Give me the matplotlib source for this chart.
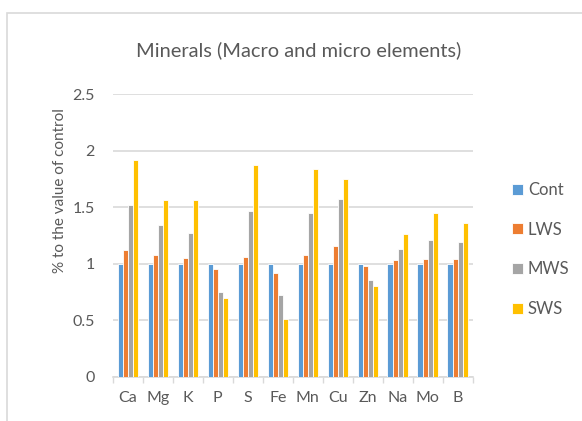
import numpy as np
import matplotlib.pyplot as plt
from matplotlib.patches import Rectangle

elements = ['Ca', 'Mg', 'K', 'P', 'S', 'Fe', 'Mn', 'Cu', 'Zn', 'Na', 'Mo', 'B']
cont = [1, 1, 1, 1, 1, 1, 1, 1, 1, 1, 1, 1]
lws = [1.12, 1.08, 1.05, 0.95, 1.06, 0.92, 1.08, 1.16, 0.98, 1.03, 1.04, 1.04]
mws = [1.52, 1.34, 1.27, 0.75, 1.47, 0.72, 1.45, 1.57, 0.86, 1.13, 1.21, 1.19]
sws = [1.92, 1.56, 1.56, 0.70, 1.87, 0.51, 1.84, 1.75, 0.80, 1.26, 1.45, 1.36]

series = [('Cont', cont, '#5b9bd5'), ('LWS', lws, '#ed7d31'),
          ('MWS', mws, '#a5a5a5'), ('SWS', sws, '#ffc000')]

W, H = 582, 421
txt = '#595959'
grid = '#d9d9d9'
plt.rcParams['font.family'] = ['Lato', 'DejaVu Sans']

fig = plt.figure(figsize=(W / 100, H / 100), dpi=100)
# chart area border (cropped at right and bottom)
fig.patches.append(Rectangle((7 / W, -0.1), 1.2, 1.1 - 13 / H,
                             transform=fig.transFigure, fill=False,
                             edgecolor=grid, linewidth=1.2))

ax = fig.add_axes([112.7 / W, (H - 377) / H, 360 / W, 283 / H])
x = np.arange(len(elements))
bw = 0.17
for i, (name, vals, col) in enumerate(series):
    ax.bar(x + (i - 1.5) * bw, vals, bw, color=col, edgecolor='white',
           linewidth=0.6, label=name, zorder=3)

ax.set_xlim(-0.5, len(elements) - 0.5)
ax.set_ylim(0, 2.5)
ax.set_yticks([0, 0.5, 1, 1.5, 2, 2.5])
ax.set_yticklabels(['0', '0.5', '1', '1.5', '2', '2.5'])
ax.yaxis.grid(True, color=grid, linewidth=1.2, zorder=0)
ax.tick_params(axis='y', length=0, pad=13, labelsize=11.5, labelcolor=txt)

ax.set_xticks(np.arange(-0.5, len(elements), 1))
ax.set_xticklabels([])
ax.set_xticks(x, minor=True)
ax.set_xticklabels(elements, minor=True)
ax.tick_params(axis='x', which='major', length=4.5, width=1, color=grid)
ax.tick_params(axis='x', which='minor', length=0, pad=10, labelsize=11.5,
               labelcolor=txt)

for s in ['top', 'right', 'left']:
    ax.spines[s].set_visible(False)
ax.spines['bottom'].set_color(grid)
ax.spines['bottom'].set_linewidth(1.2)

fig.text(299 / W, 1 - 50 / H, 'Minerals (Macro and micro elements)',
         ha='center', va='center', fontsize=14.4, color=txt)
fig.text(60 / W, 1 - 191 / H, '% to the value of control', rotation=90,
         ha='center', va='center', fontsize=11, color=txt)

fig.legend(loc='upper left', bbox_to_anchor=(512 / W, 1 - 182 / H),
           frameon=False, fontsize=12, labelcolor=txt, handlelength=0.65,
           handleheight=0.65, handletextpad=0.3, labelspacing=1.42,
           borderpad=0, borderaxespad=0)

fig.savefig('out.png', dpi=100)
